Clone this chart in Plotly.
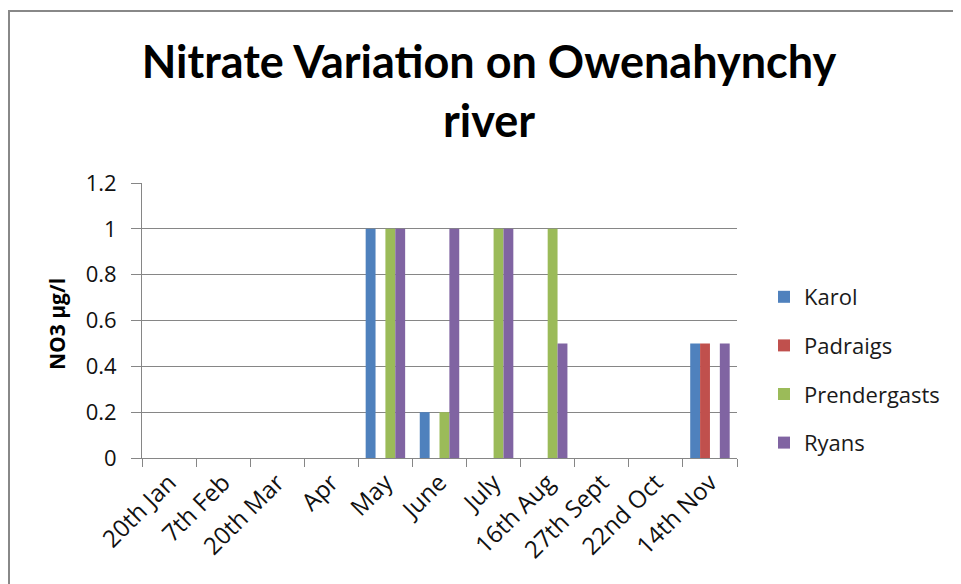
import plotly.graph_objects as go

categories = ["20th Jan", "7th Feb", "20th Mar", "Apr", "May", "June", "July",
              "16th Aug", "27th Sept", "22nd Oct", "14th Nov"]
karol = [0, 0, 0, 0, 1, 0.2, 0, 0, 0, 0, 0.5]
padraigs = [0, 0, 0, 0, 0, 0, 0, 0, 0, 0, 0.5]
prendergasts = [0, 0, 0, 0, 1, 0.2, 1, 1, 0, 0, 0]
ryans = [0, 0, 0, 0, 1, 1, 1, 0.5, 0, 0, 0.5]
y_ticks = [0, 0.2, 0.4, 0.6, 0.8, 1, 1.2]
y_tick_text = ["0", "0.2", "0.4", "0.6", "0.8", "1", "1.2"]

series = [("Karol", karol, "#4F81BD"),
          ("Padraigs", padraigs, "#C0504D"),
          ("Prendergasts", prendergasts, "#9BBB59"),
          ("Ryans", ryans, "#8064A2")]

TFONT = "Lato, 'Open Sans', sans-serif"
FONT = "'Open Sans', Lato, sans-serif"

# figure-pixel layout (page body has an 8px margin)
L, R, T, B = 134, 729, 175, 450
PW, PH = R - L, B - T

fig = go.Figure()
for i, (name, vals, col) in enumerate(series):
    fig.add_trace(go.Bar(x=categories, y=vals, name=name, marker_color=col,
                         marker_line_width=0, legendgroup=f"g{i}"))

fig.update_layout(
    width=961, height=584,
    barmode="group", bargap=0.27, bargroupgap=0,
    paper_bgcolor="white", plot_bgcolor="white",
    margin=dict(l=L, r=961 - R, t=T, b=584 - B, autoexpand=False),
    font=dict(family=FONT, color="#000000"),
    title=dict(text="<b>Nitrate Variation on Owenahynchy<br>river</b>",
               x=481 / 961, xanchor="center", y=1 - 70 / 584, yanchor="top",
               font=dict(size=45, family=TFONT, color="#000000")),
    showlegend=True,
    legend=dict(x=(756 - L) / PW, xanchor="left", y=(B - 268) / PH, yanchor="top",
                font=dict(size=22, family=FONT, color="#1a1a1a"),
                tracegroupgap=17, itemwidth=30, bgcolor="rgba(0,0,0,0)"),
    xaxis=dict(type="category", tickson="boundaries", ticks="outside", ticklen=8,
               tickcolor="#868686", showline=True, linecolor="#868686", linewidth=1,
               tickangle=-45, tickfont=dict(size=24, family=FONT, color="#111"),
               showgrid=False),
    yaxis=dict(range=[0, 1.2], tickvals=y_ticks, ticktext=y_tick_text,
               ticks="outside", ticklen=10, tickcolor="#868686",
               ticklabelstandoff=10,
               showline=True, linecolor="#868686", linewidth=1,
               showgrid=True, gridcolor="#868686", gridwidth=1, zeroline=False,
               tickfont=dict(size=22, family=FONT, color="#111")),
    annotations=[dict(text="<b>NO3 µg/l</b>", textangle=-90, showarrow=False,
                      xref="paper", yref="paper", x=(49 - L) / PW, y=(B - 316) / PH,
                      xanchor="center", yanchor="middle",
                      font=dict(size=21, family=FONT, color="#000"))],
    shapes=[dict(type="rect", xref="paper", yref="paper",
                 x0=(1 - L) / PW, x1=(975 - L) / PW,
                 y0=(B - 600) / PH, y1=(B - 3) / PH,
                 line=dict(color="#888888", width=2), fillcolor="rgba(0,0,0,0)",
                 layer="below")],
)

fig.write_html("out.html")
